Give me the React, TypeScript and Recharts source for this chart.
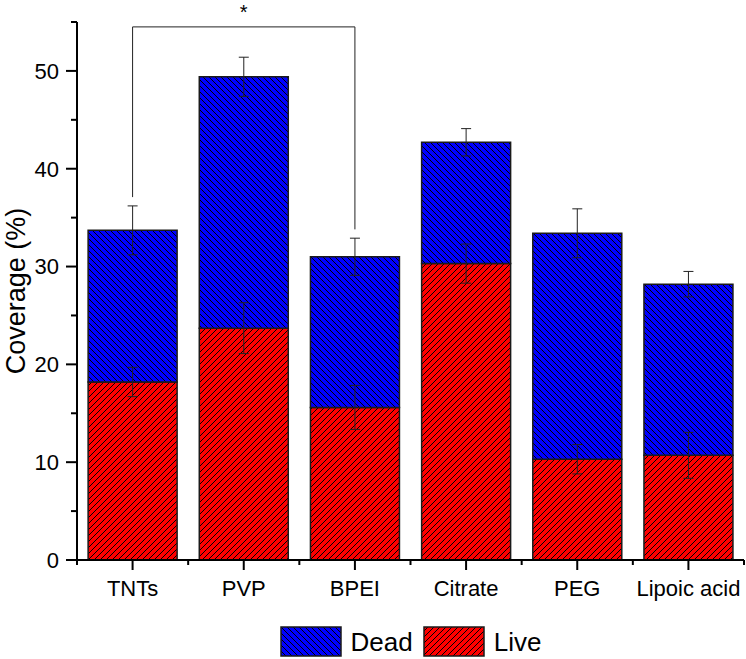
import React from "react";
import { Bar, BarChart, ErrorBar, Label, Legend, ReferenceLine, XAxis, YAxis } from "recharts";

const categories = ["TNTs", "PVP", "BPEI", "Citrate", "PEG", "Lipoic acid"];
const liveValues = [18.2, 23.7, 15.6, 30.3, 10.3, 10.7];
const liveErrors = [1.5, 2.6, 2.25, 2.0, 1.5, 2.35];
const deadValues = [15.5, 25.7, 15.4, 12.4, 23.1, 17.5];
const deadErrors = [2.5, 2.0, 1.9, 1.4, 2.5, 1.3];
const yTicks = [0, 5, 10, 15, 20, 25, 30, 35, 40, 45, 50, 55];

// significance bracket between TNTs and BPEI
const bracketFrom = "TNTs";
const bracketTo = "BPEI";
const bracketTop = 54.5;
const bracketFromBottom = 37.1;
const bracketToBottom = 33.8;
const bracketMark = "*";

const data = categories.map((name, i) => ({
  name,
  live: liveValues[i],
  liveErr: liveErrors[i],
  dead: deadValues[i],
  deadErr: deadErrors[i],
}));

const W = 746;
const H = 659;
const Y_AXIS_W = 77;
const RIGHT = 2;
const BAND = (W - Y_AXIS_W - RIGHT) / categories.length;
const FONT = "'Liberation Sans', Arial, sans-serif";

const legendItems = [
  { name: "Dead", color: "#0000ff", back: true },
  { name: "Live", color: "#ff0000", back: false },
];

// diagonal hatch, "\" when back, "/" otherwise
function Hatch({ id, color, back }: { id: string; color: string; back: boolean }) {
  const s = 6;
  const d = back
    ? `M0,0 L${s},${s} M-1,${s - 1} L1,${s + 1} M${s - 1},-1 L${s + 1},1`
    : `M0,${s} L${s},0 M-1,1 L1,-1 M${s - 1},${s + 1} L${s + 1},${s - 1}`;
  return (
    <pattern id={id} width={s} height={s} patternUnits="userSpaceOnUse">
      <rect width={s} height={s} fill={color} />
      <path d={d} stroke="#000" strokeWidth={1} />
    </pattern>
  );
}

function YTick(props: any) {
  const { x, y, payload } = props;
  const axisX = x + 18;
  const major = payload.value % 10 === 0;
  return (
    <g>
      <line x1={axisX - (major ? 11 : 6)} x2={axisX} y1={y} y2={y} stroke="#000" strokeWidth={2} />
      {major && (
        <text x={x} y={y} dy="0.36em" textAnchor="end" fontSize={22} fontFamily={FONT} fill="#000">
          {payload.value}
        </text>
      )}
    </g>
  );
}

function XTick(props: any) {
  const { x, y, payload, index } = props;
  const axisY = y - 12;
  const half = BAND / 2;
  return (
    <g>
      <line x1={x} x2={x} y1={axisY} y2={axisY + 10} stroke="#000" strokeWidth={2} />
      <line x1={x - half} x2={x - half} y1={axisY} y2={axisY + 5} stroke="#000" strokeWidth={2} />
      {index === categories.length - 1 && (
        <line x1={x + half} x2={x + half} y1={axisY} y2={axisY + 5} stroke="#000" strokeWidth={2} />
      )}
      <text x={x} y={axisY + 36} textAnchor="middle" fontSize={22} fontFamily={FONT} fill="#000">
        {payload.value}
      </text>
    </g>
  );
}

function LegendContent() {
  return (
    <div style={{ display: "flex", justifyContent: "center", alignItems: "center", fontFamily: FONT }}>
      {legendItems.map((it, i) => (
        <div key={it.name} style={{ display: "flex", alignItems: "center", marginLeft: i ? 10 : 0 }}>
          <svg width={62} height={31}>
            <defs>
              <Hatch id={`lg-${i}`} color={it.color} back={it.back} />
            </defs>
            <rect x={1} y={1} width={60} height={29} fill={`url(#lg-${i})`} stroke="#1a1a1a" strokeWidth={1.5} />
          </svg>
          <span style={{ fontSize: 26, marginLeft: 9, color: "#000", lineHeight: "30px" }}>{it.name}</span>
        </div>
      ))}
    </div>
  );
}

function YLabel(props: any) {
  const { viewBox } = props;
  const cy = viewBox.y + viewBox.height / 2;
  return (
    <text x={25} y={cy} transform={`rotate(-90 25 ${cy})`} textAnchor="middle" fontSize={27} fontFamily={FONT} fill="#000">
      Coverage (%)
    </text>
  );
}

export default function App() {
  return (
    <div style={{ position: "absolute", left: 0, top: 0, background: "#fff" }}>
      <BarChart
        width={W}
        height={H}
        data={data}
        margin={{ top: 22, right: RIGHT, bottom: 59, left: 0 }}
        barCategoryGap="10%"
      >
        <defs>
          <Hatch id="hatchDead" color="#0000ff" back />
          <Hatch id="hatchLive" color="#ff0000" back={false} />
        </defs>
        <XAxis
          dataKey="name"
          height={40}
          interval={0}
          tick={<XTick />}
          tickSize={10}
          tickMargin={2}
          tickLine={{ stroke: "none" }}
          axisLine={{ stroke: "#000", strokeWidth: 2 }}
        />
        <YAxis
          width={Y_AXIS_W}
          domain={[0, 55]}
          allowDataOverflow
          ticks={yTicks}
          interval={0}
          tick={<YTick />}
          tickSize={11}
          tickMargin={7}
          tickLine={{ stroke: "none" }}
          axisLine={{ stroke: "#000", strokeWidth: 2 }}
        >
          <Label content={<YLabel />} />
        </YAxis>
        <Bar dataKey="live" name="Live" stackId="a" fill="url(#hatchLive)" stroke="#1a1a1a" strokeWidth={1.5} isAnimationActive={false}>
          <ErrorBar dataKey="liveErr" direction="y" width={5} stroke="#222" strokeWidth={1} />
        </Bar>
        <Bar dataKey="dead" name="Dead" stackId="a" fill="url(#hatchDead)" stroke="#1a1a1a" strokeWidth={1.5} isAnimationActive={false}>
          <ErrorBar dataKey="deadErr" direction="y" width={5} stroke="#222" strokeWidth={1} />
        </Bar>
        <ReferenceLine
          segment={[{ x: bracketFrom, y: bracketFromBottom }, { x: bracketFrom, y: bracketTop }]}
          stroke="#222"
          strokeWidth={1}
          ifOverflow="visible"
        />
        <ReferenceLine
          segment={[{ x: bracketFrom, y: bracketTop }, { x: bracketTo, y: bracketTop }]}
          stroke="#222"
          strokeWidth={1}
          ifOverflow="visible"
          label={{ value: bracketMark, position: "top", offset: 8, fontSize: 20, fill: "#000", fontFamily: FONT }}
        />
        <ReferenceLine
          segment={[{ x: bracketTo, y: bracketToBottom }, { x: bracketTo, y: bracketTop }]}
          stroke="#222"
          strokeWidth={1}
          ifOverflow="visible"
        />
        <Legend
          verticalAlign="middle"
          align="center"
          layout="horizontal"
          wrapperStyle={{ position: "absolute", top: 626, left: Y_AXIS_W, width: W - Y_AXIS_W - RIGHT, height: 31 }}
          content={() => <LegendContent />}
        />
      </BarChart>
    </div>
  );
}
